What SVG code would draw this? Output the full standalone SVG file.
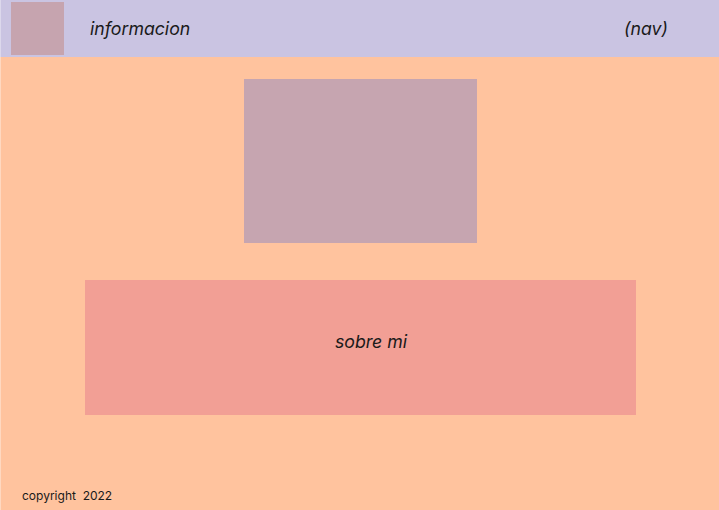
<svg xmlns="http://www.w3.org/2000/svg" width="719" height="510" viewBox="0 0 719 510">
<style>
.t{font-family:Inter,"Noto Sans","Liberation Sans",sans-serif;fill:#1a1a1a}
.i{font-style:italic;font-size:17.7px}
</style>
<rect id="page" x="0" y="0" width="719" height="510" fill="#FFC39E"/>
<g id="nav">
<rect x="0" y="0" width="719" height="57" fill="#CAC4E2"/>
<rect x="11" y="2" width="53" height="53" fill="#C6A4AF"/>
<text class="t i" x="90" y="35">informacion</text>
<text class="t i" x="624" y="35">(nav)</text>
</g>
<line x1="0.5" y1="0" x2="0.5" y2="510" stroke="#ffffff" stroke-opacity="0.35" stroke-width="1"/>
<g id="image"><rect x="244" y="79" width="233" height="164" fill="#C6A5B0"/></g>
<g id="sobre">
<rect x="85" y="280" width="551" height="135" fill="#F29F95"/>
<text class="t i" x="371" y="348" text-anchor="middle">sobre mi</text>
</g>
<g id="footer"><text class="t" x="22" y="500" font-size="12" xml:space="preserve">copyright  2022</text></g>
<g id="connectors"/>
</svg>
